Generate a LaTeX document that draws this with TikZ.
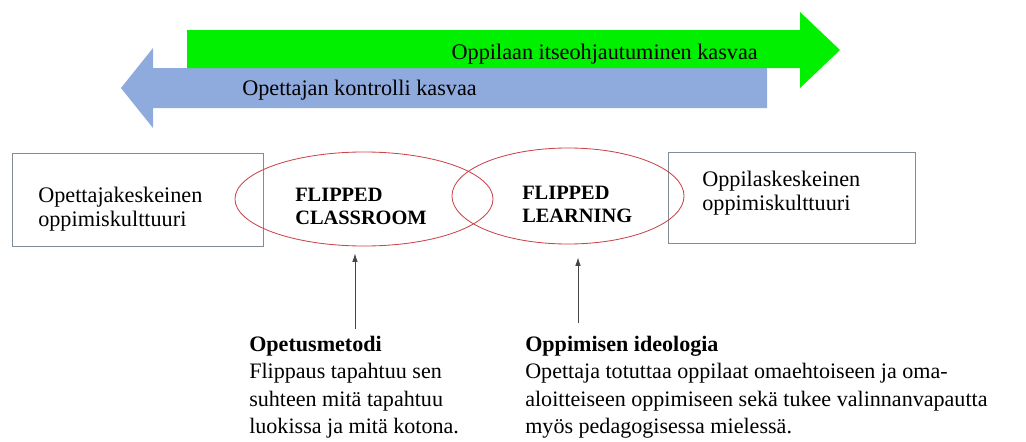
\documentclass[tikz,border=0pt]{standalone}
\usepackage{fontspec}
\setmainfont{Liberation Serif}
\usetikzlibrary{arrows.meta,positioning,shapes.geometric}
\definecolor{learnercolor}{RGB}{0,240,0}
\definecolor{teachercolor}{RGB}{143,170,220}
\definecolor{framecolor}{RGB}{128,140,150}
\definecolor{ovalcolor}{RGB}{200,70,75}
\definecolor{pointercolor}{RGB}{70,70,70}

\begin{document}
\begin{tikzpicture}[
    x=0.025cm, y=-0.025cm,
    upper/.style={font=\fontsize{15.8}{17}\selectfont, align=left, inner sep=0pt},
    caption/.style={font=\fontsize{14.5}{16.5}\selectfont\bfseries, align=left, inner sep=0pt},
    lower/.style={font=\fontsize{15.7}{19.4}\selectfont, align=left, inner sep=0pt},
    frame/.style={rectangle, draw=framecolor, line width=0.6pt},
    oval/.style={ellipse, draw=ovalcolor, line width=0.6pt},
    pointer/.style={-{Latex[length=6pt,width=4pt]}, draw=pointercolor, line width=0.6pt}
]
\useasboundingbox (0,0) rectangle (1026,441);

% the two big arrows
\fill[teachercolor] (767,68) -- (153,68) -- (153,48) -- (121,88) -- (153,128) -- (153,108) -- (767,108) -- cycle;
\fill[learnercolor] (187,30) -- (800,30) -- (800,12) -- (840,50) -- (800,88) -- (800,68) -- (187,68) -- cycle;
\node[upper, anchor=east] (selfgrowth) at (758,54) {Oppilaan itseohjautuminen kasvaa};
\node[upper, anchor=west] (controlgrowth) at (242,90) {Opettajan kontrolli kasvaa};

% boxes and ovals
\node[frame, minimum width=6.275cm, minimum height=2.325cm] (teacherbox) at (137.5,199.5) {};
\node[frame, minimum width=6.175cm, minimum height=2.275cm] (learnerbox) at (791.5,197.5) {};
\node[oval, minimum width=6.45cm, minimum height=2.35cm] (classroom) at (364,199) {};
\node[oval, minimum width=5.8cm, minimum height=2.4cm] (learning) at (568,196) {};

\node[upper, anchor=north west] (teachertext) at (38,187) {Opettajakeskeinen\\oppimiskulttuuri};
\node[upper, anchor=north west] (learnertext) at (702,171) {Oppilaskeskeinen\\oppimiskulttuuri};
\node[caption, anchor=north west] (classtext) at (295,188) {FLIPPED\\CLASSROOM};
\node[caption, anchor=north west] (learntext) at (522,186) {FLIPPED\\LEARNING};

% explanations below
\node[lower, anchor=north west] (method) at (249,336) {\textbf{Opetusmetodi}\\Flippaus tapahtuu sen\\suhteen mitä tapahtuu\\luokissa ja mitä kotona.};
\node[lower, anchor=north west] (ideology) at (525,336) {\textbf{Oppimisen ideologia}\\Opettaja totuttaa oppilaat omaehtoiseen ja oma-\\aloitteiseen oppimiseen sekä tukee valinnanvapautta\\myös pedagogisessa mielessä.};

\coordinate (methodfoot) at (355,329);
\coordinate (ideafoot) at (578,323);
\draw[pointer, shorten >=0.175cm] (methodfoot) -- (methodfoot |- classroom.south);
\draw[pointer, shorten >=0.325cm] (ideafoot) -- (ideafoot |- learning.south);
\end{tikzpicture}
\end{document}
